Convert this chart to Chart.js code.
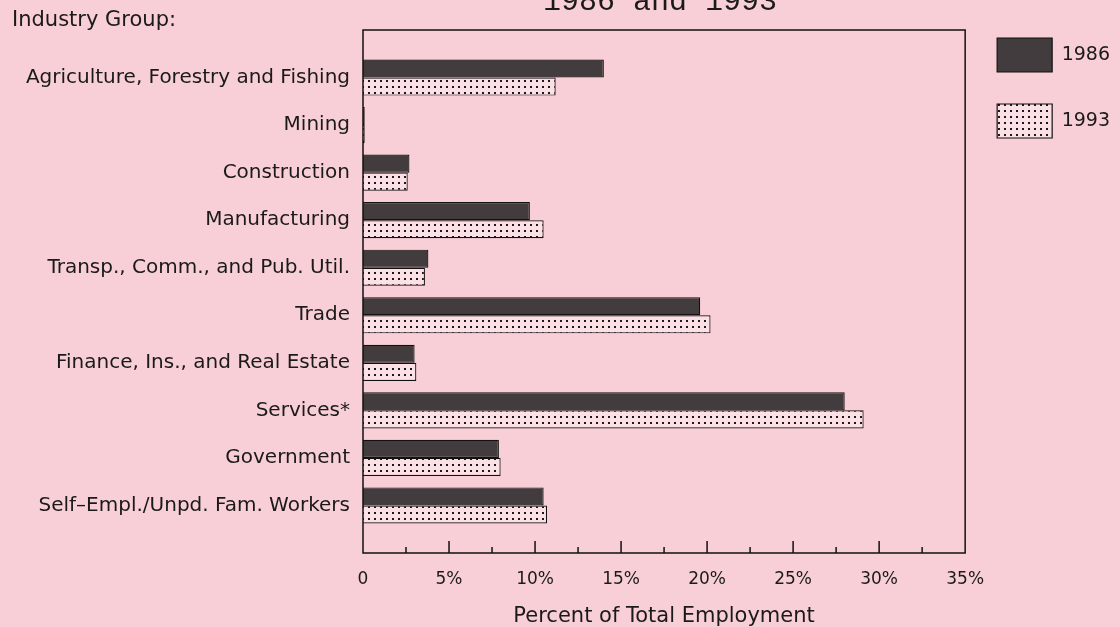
<!DOCTYPE html>
<html>
<head>
<meta charset="utf-8">
<script src="https://cdn.jsdelivr.net/npm/chart.js@4.4.0/dist/chart.umd.min.js"></script>
<style>
  html, body { margin: 0; padding: 0; background: #f8cfd6; }
  canvas { display: block; }
</style>
</head>
<body>
<canvas id="chart" width="1120" height="627"></canvas>
<script>
// dados
const industries = [
  "Agriculture, Forestry and Fishing",
  "Mining",
  "Construction",
  "Manufacturing",
  "Transp., Comm., and Pub. Util.",
  "Trade",
  "Finance, Ins., and Real Estate",
  "Services*",
  "Government",
  "Self\u2013Empl./Unpd. Fam. Workers"
];
const share1986 = [14.0, 0.1, 2.7, 9.7, 3.8, 19.6, 3.0, 28.0, 7.9, 10.5];
const share1993 = [11.2, 0.1, 2.6, 10.5, 3.6, 20.2, 3.1, 29.1, 8.0, 10.7];
const xTicks = [0, 5, 10, 15, 20, 25, 30, 35];
const seriesNames = ["1986", "1993"];

const FONT = "'DejaVu Sans', sans-serif";

// padrao pontilhado da serie 1993
function dotPattern() {
  const c = document.createElement("canvas");
  c.width = 6; c.height = 6;
  const g = c.getContext("2d");
  g.fillStyle = "#fbe0e5";
  g.fillRect(0, 0, 6, 6);
  g.fillStyle = "#1c1719";
  g.fillRect(2, 2, 2, 2);
  return document.getElementById("chart").getContext("2d").createPattern(c, "repeat");
}

// moldura, marcas do eixo x e textos soltos
const extras = {
  id: "extras",
  afterDraw(chart) {
    const { ctx, chartArea: a, scales } = chart;
    ctx.save();
    ctx.strokeStyle = "#111";
    ctx.lineWidth = 1.5;
    ctx.strokeRect(a.left, a.top, a.right - a.left, a.bottom - a.top);

    ctx.beginPath();
    for (let v = 2.5; v < 35; v += 2.5) {
      const px = scales.x.getPixelForValue(v);
      const len = (v % 5 === 0) ? 12 : 6;
      ctx.moveTo(px, a.bottom);
      ctx.lineTo(px, a.bottom - len);
    }
    ctx.stroke();

    ctx.fillStyle = "#1a1a1a";
    ctx.font = "21px " + FONT;
    ctx.textBaseline = "middle";
    ctx.textAlign = "left";
    ctx.fillText("Industry Group:", 12, 21);

    ctx.font = "30px 'Liberation Mono', monospace";
    ctx.textAlign = "center";
    ctx.textBaseline = "alphabetic";
    ctx.fillText("1986 and 1993", 660, 10);
    ctx.restore();
  }
};

const pattern = dotPattern();

new Chart(document.getElementById("chart"), {
  type: "bar",
  data: {
    datasets: [
      {
        label: seriesNames[0],
        data: share1986.map((v, i) => ({ x: v, y: i })),
        backgroundColor: "#423c3e",
        borderColor: "#111",
        borderWidth: 1.2
      },
      {
        label: seriesNames[1],
        data: share1993.map((v, i) => ({ x: v, y: i })),
        backgroundColor: pattern,
        borderColor: "#111",
        borderWidth: 1.2
      }
    ]
  },
  options: {
    indexAxis: "y",
    responsive: false,
    animation: false,
    categoryPercentage: 0.76,
    barPercentage: 1.0,
    layout: { padding: { top: 6, left: 0, right: 0, bottom: 0 } },
    plugins: {
      tooltip: { enabled: false },
      legend: {
        position: "right",
        align: "start",
        labels: {
          boxWidth: 55,
          boxHeight: 34,
          padding: 32,
          color: "#1a1a1a",
          font: { family: FONT, size: 19 }
        }
      }
    },
    scales: {
      x: {
        type: "linear",
        min: 0,
        max: 35,
        afterBuildTicks: (s) => { s.ticks = xTicks.map(v => ({ value: v })); },
        afterFit: (s) => { s.height = 74; },
        grid: { display: false },
        border: { display: false },
        ticks: {
          padding: 8,
          color: "#1a1a1a",
          font: { family: FONT, size: 17 },
          callback: (v) => v === 0 ? "0" : v + "%"
        },
        title: {
          display: true,
          text: "Percent of Total Employment",
          color: "#1a1a1a",
          font: { family: FONT, size: 21, lineHeight: 1 },
          padding: { top: 0, bottom: 0 }
        }
      },
      x2: {
        position: "top",
        display: true,
        afterFit: (s) => { s.height = 24; },
        grid: { display: false },
        border: { display: false },
        ticks: { display: false }
      },
      y: {
        type: "linear",
        min: -1,
        max: 10,
        reverse: true,
        offset: false,
        afterBuildTicks: (s) => { s.ticks = industries.map((_, i) => ({ value: i })); },
        afterFit: (s) => { s.width = 363; },
        grid: { display: false },
        border: { display: false },
        ticks: {
          padding: 5,
          color: "#1a1a1a",
          font: { family: FONT, size: 20 },
          callback: (v) => industries[v] ?? ""
        }
      }
    }
  },
  plugins: [extras]
});
</script>
</body>
</html>
